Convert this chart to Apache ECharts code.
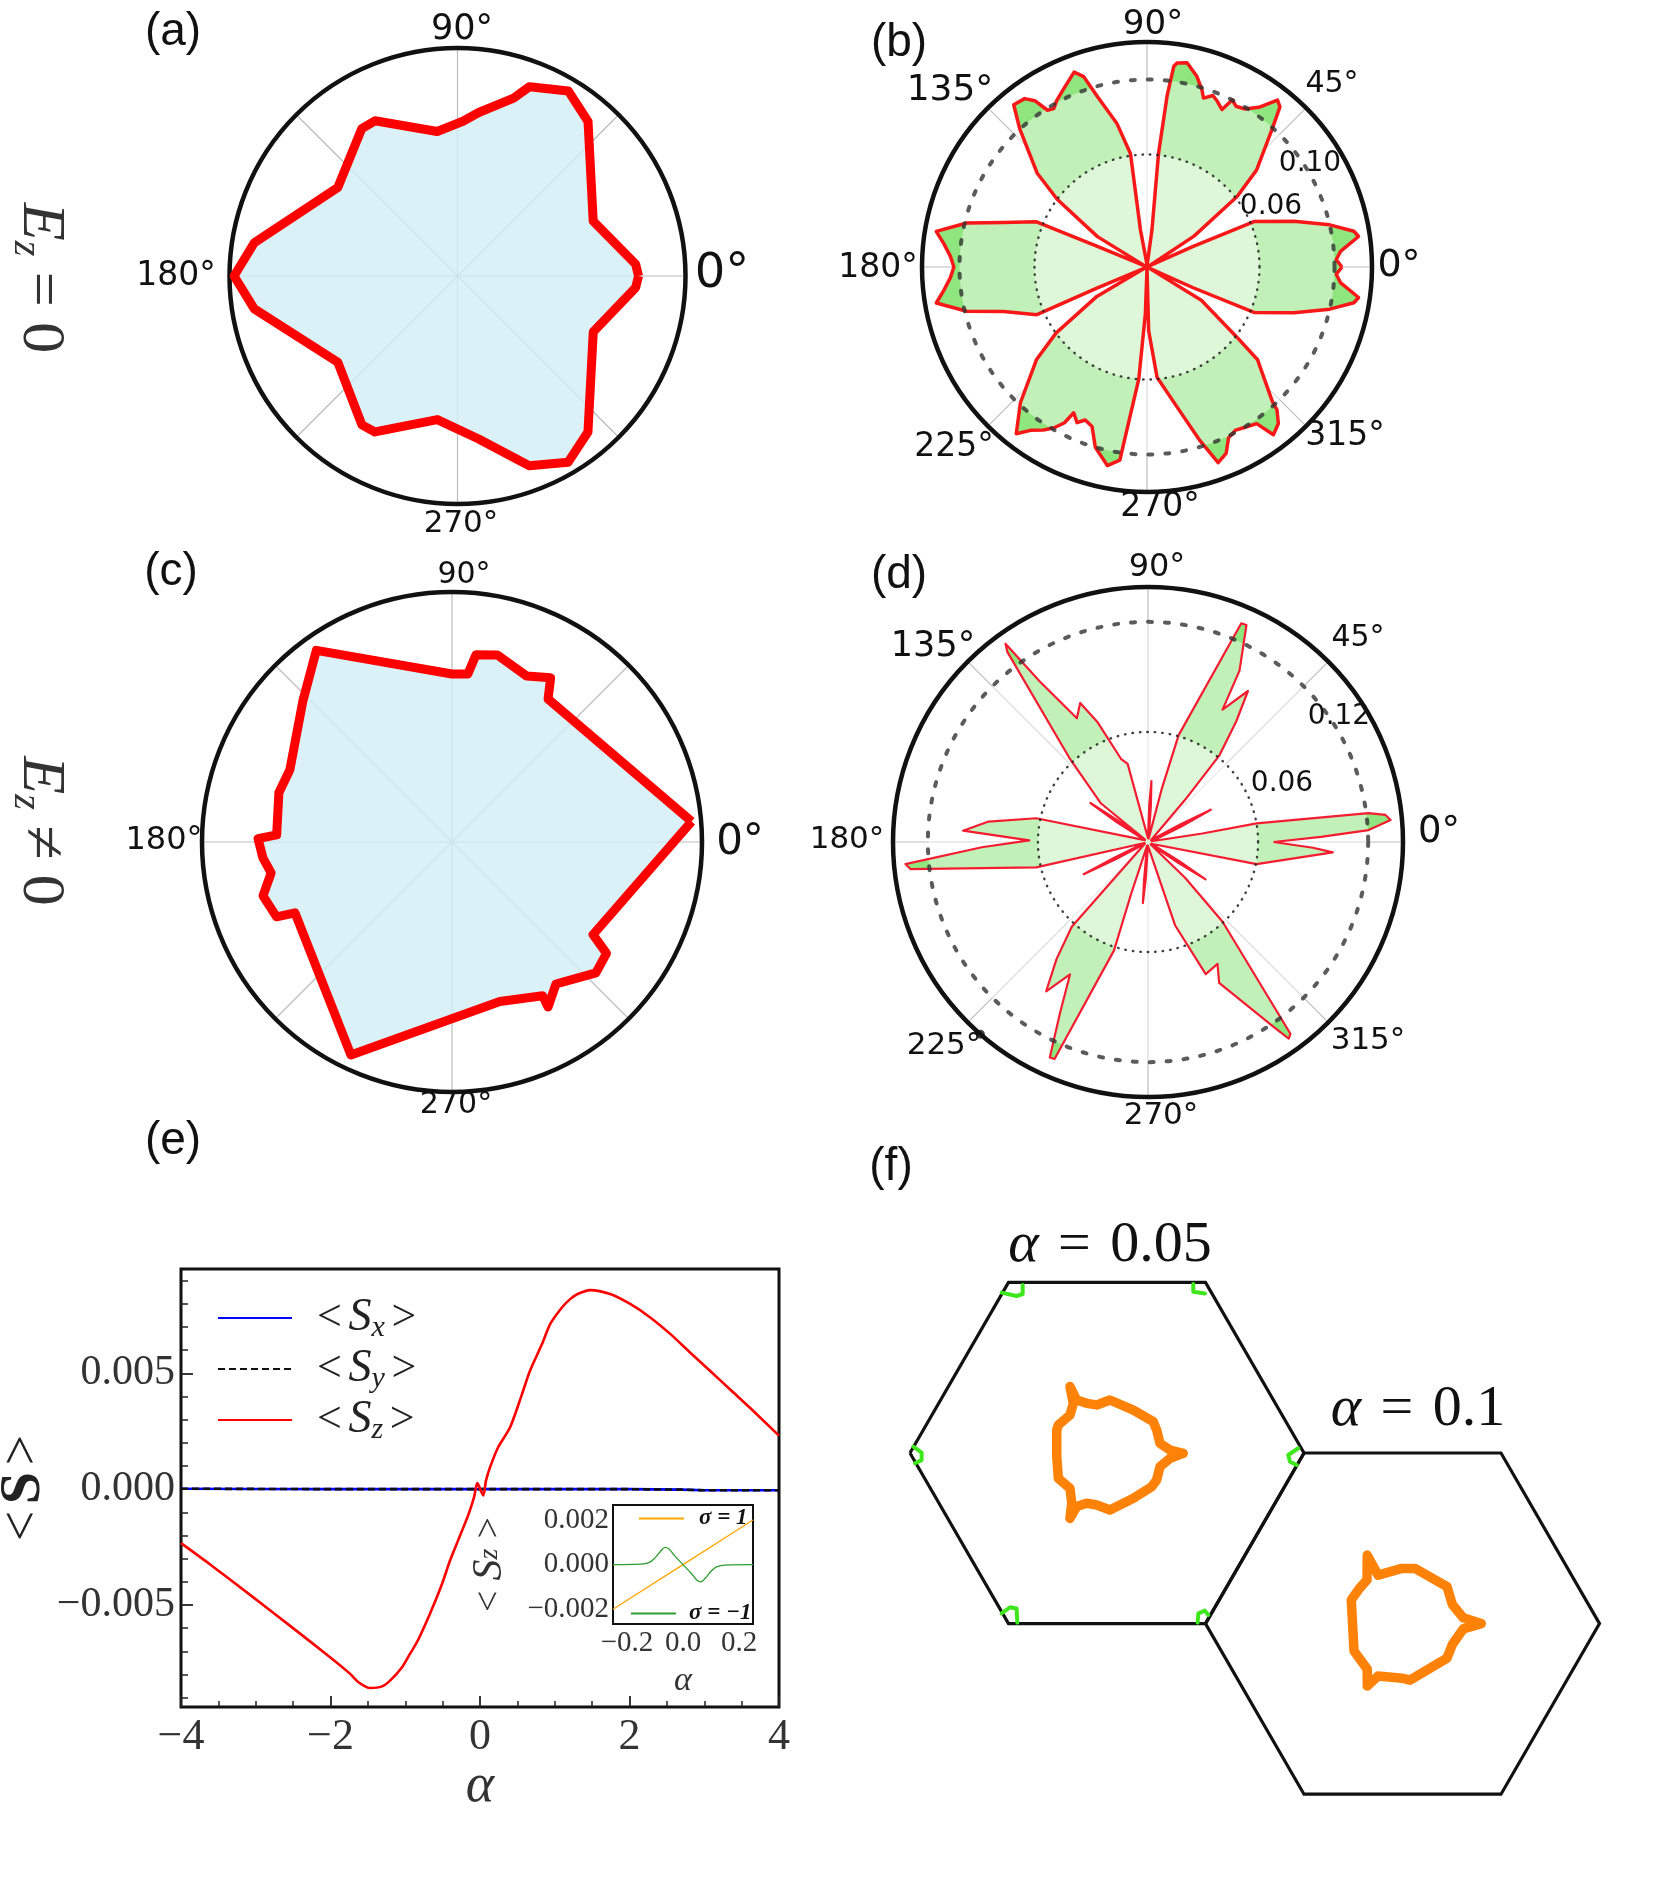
<!DOCTYPE html>
<html>
<head>
<meta charset="utf-8">
<style>
body { margin: 0; background: #ffffff; }
#chart { width: 1660px; height: 1882px; }
</style>
<script src="https://cdn.jsdelivr.net/npm/echarts@6/dist/echarts.min.js"></script>
</head>
<body>
<div id="chart"></div>
<script type="text/javascript">

// (a) E_z = 0 : outline of the polar pattern, angle in degrees, radius relative to the frame
var angA = [0, 3.8, 22, 49.8, 59.1, 69.2, 72.5, 82.6, 88, 98, 118, 123, 143.5, 170.7, 180, 189.2, 215.8, 237.3, 242.1, 262, 277.4, 290.7, 300.7, 309.9, 337.6, 356.3, 360];
var radA = [0.794, 0.783, 0.642, 0.887, 0.946, 0.888, 0.818, 0.723, 0.679, 0.640, 0.771, 0.771, 0.653, 0.903, 0.980, 0.903, 0.647, 0.776, 0.774, 0.636, 0.721, 0.890, 0.950, 0.892, 0.644, 0.783, 0.794];

// (b) E_z = 0 : lobes
var angB = [0, 2.2, 4.6, 8.2, 9.8, 13, 17.3, 23, 24, 26,
  31, 33.3, 38, 41.5, 47.7, 50.3, 52, 55, 58.4, 61, 63, 64.5, 67, 69, 71.5, 72.8, 75.3, 78.9, 81.6, 82.4, 83.3, 84.2, 82.4, 86,
  94, 100, 98.3, 101.8, 106.3, 108.4, 110.5, 115, 118.5, 120.5, 122.4, 124, 126, 129.4, 132.7, 139.5, 143, 148.5, 152,
  155, 157.5, 157.8, 162.7, 166.3, 170.4, 173.5, 176.9, 180, 183.1, 186.5, 189.7, 193.8, 197.3, 203.4, 202.8, 205,
  208, 210.4, 216, 220, 227, 231.9, 234.5, 237.6, 240, 242.1, 243.3, 245.8, 248, 251, 254, 258.7, 262, 263, 265.8, 268, 270,
  273, 271.5, 275.2, 282, 287, 290, 293, 295.5, 298.5, 301, 305, 307, 310, 312.3, 313, 320, 322, 328.5, 332,
  334, 335.8, 337, 342.7, 347, 350.2, 351.8, 355.4, 357.8, 360];
var radB = [0.104, 0.101, 0.1035, 0.114, 0.112, 0.100, 0.082, 0.062, 0.027, 0.001,
  0.001, 0.030, 0.061, 0.078, 0.099, 0.111, 0.113, 0.104, 0.099, 0.098, 0.100, 0.093, 0.096, 0.098, 0.095, 0.099, 0.105, 0.111, 0.110, 0.108, 0.092, 0.061, 0.020, 0.001,
  0.001, 0.020, 0.061, 0.078, 0.095, 0.107, 0.111, 0.105, 0.101, 0.098, 0.099, 0.107, 0.111, 0.112, 0.100, 0.077, 0.060, 0.031, 0.001,
  0.001, 0.029, 0.064, 0.080, 0.099, 0.114, 0.109, 0.105, 0.103, 0.105, 0.109, 0.114, 0.099, 0.080, 0.064, 0.029, 0.001,
  0.001, 0.031, 0.060, 0.077, 0.099, 0.113, 0.107, 0.103, 0.099, 0.094, 0.087, 0.091, 0.088, 0.090, 0.100, 0.108, 0.104, 0.087, 0.060, 0.025, 0.001,
  0.001, 0.034, 0.059, 0.076, 0.097, 0.111, 0.108, 0.101, 0.099, 0.100, 0.102, 0.112, 0.109, 0.103, 0.098, 0.077, 0.061, 0.034, 0.001,
  0.001, 0.027, 0.062, 0.082, 0.100, 0.112, 0.114, 0.1035, 0.101, 0.104];
var ringsB = [0.06, 0.10];

// (c) E_z != 0 : outline
var angC = [4.9, 56.1, 59, 65.8, 76.4, 82.7, 84.6, 90, 125.3, 136.6, 156, 164.1, 177.7, 179, 184.8, 189.7, 195.9, 203.1, 204.3, 244.6, 286.7, 300.5, 300.2, 306.2, 317.7, 324.2, 326.7, 4.9];
var radC = [0.962, 0.689, 0.766, 0.728, 0.770, 0.755, 0.675, 0.672, 0.939, 0.821, 0.710, 0.720, 0.702, 0.776, 0.759, 0.734, 0.786, 0.763, 0.689, 0.943, 0.666, 0.714, 0.764, 0.704, 0.778, 0.762, 0.675, 0.962];

// (d) E_z != 0 : spikes and small petals
var angD = [0, 1.7, 3.1, 5.2, 6.5, 7.45, 9.75, 8.9, 12,
  22, 25, 27.2, 28.5, 32,
  46, 48.7, 50.5, 53.8, 56.5, 60.6, 61.9, 65.6, 66.9, 74, 75.5, 79,
  84, 85.5, 86.8, 88, 90,
  100, 104.4, 104.6, 108, 112.9, 116, 119.9, 124, 125.7, 126.5, 133.2, 140.6, 141,
  143, 144.5, 145.9, 147.5, 150,
  163, 168, 172.7, 176.5, 179.2, 181.8, 185.2, 186.5, 192.8, 195,
  203, 205, 206.6, 208, 210,
  222, 228, 232, 235.7, 239.5, 242.8, 245.5, 246.7, 252.6, 252, 256,
  263, 264, 265.2, 266.5, 268,
  282, 288, 293.6, 299.7, 296.8, 304.2, 305.6, 306.6, 313.1, 316, 318,
  324, 325.5, 327, 328.5, 331,
  343, 348.5, 356.8, 358, 360];
var radD = [0.0684, 0.0943, 0.1204, 0.1328, 0.1303, 0.1212, 0.0601, 0.0300, 0.002,
  0.002, 0.020, 0.0385, 0.020, 0.002,
  0.002, 0.0308, 0.0610, 0.0814, 0.0987, 0.0828, 0.1059, 0.1299, 0.1296, 0.0606, 0.0296, 0.002,
  0.002, 0.020, 0.0333, 0.020, 0.002,
  0.002, 0.0334, 0.0440, 0.0477, 0.0712, 0.0843, 0.0778, 0.1059, 0.1331, 0.1289, 0.0621, 0.0335, 0.002,
  0.002, 0.020, 0.0379, 0.020, 0.002,
  0.002, 0.0623, 0.0876, 0.1010, 0.0647, 0.0906, 0.1328, 0.1303, 0.0625, 0.002,
  0.002, 0.020, 0.0392, 0.020, 0.002,
  0.002, 0.0621, 0.0810, 0.0985, 0.0837, 0.1050, 0.1291, 0.1288, 0.0619, 0.0301, 0.002,
  0.002, 0.020, 0.0334, 0.020, 0.002,
  0.002, 0.0477, 0.0786, 0.0765, 0.0860, 0.1218, 0.1318, 0.1302, 0.0595, 0.0281, 0.002,
  0.002, 0.020, 0.0374, 0.020, 0.002,
  0.002, 0.0604, 0.1009, 0.0900, 0.0684];
var ringsD = [0.06, 0.12];

// angle tick labels of the four polar panels: text, font size, centre (px)
var angLabelsA = [['90\u00b0', 35, 462, 30], ['0\u00b0', 48, 722, 275], ['180\u00b0', 33, 176, 276], ['270\u00b0', 31, 461, 524]];
var angLabelsB = [['90\u00b0', 34, 1153, 25], ['45\u00b0', 30, 1332, 84], ['135\u00b0', 36, 950, 91], ['180\u00b0', 33, 878, 268],
  ['0\u00b0', 38, 1399, 266], ['225\u00b0', 33, 954, 447], ['270\u00b0', 33, 1160, 507], ['315\u00b0', 33, 1345, 436]];
var angLabelsC = [['90\u00b0', 30, 464, 575], ['0\u00b0', 42, 740, 843], ['180\u00b0', 32, 164, 841], ['270\u00b0', 30, 456, 1105]];
var angLabelsD = [['90\u00b0', 32, 1157, 568], ['45\u00b0', 30, 1358, 638], ['135\u00b0', 35, 933, 647], ['180\u00b0', 31, 847, 840],
  ['0\u00b0', 37, 1439, 832], ['225\u00b0', 31, 944, 1046], ['270\u00b0', 31, 1161, 1116], ['315\u00b0', 31, 1368, 1041]];

// (e) spin expectation values against alpha
var alphaZ = [-4.0, -3.61, -3.08, -2.54, -2.01, -1.74, -1.63, -1.47, -1.31, -1.2, -1.04, -0.935, -0.83, -0.668, -0.507, -0.4, -0.293, -0.159, -0.079, -0.036, 0.044, 0.08, 0.135, 0.243, 0.403, 0.563, 0.67, 0.831, 0.94, 1.099, 1.206, 1.313, 1.474, 1.74, 2.009, 2.277, 2.544, 2.81, 3.08, 3.35, 3.615, 4.0];
var szVals = [-0.00233, -0.00325, -0.00455, -0.00590, -0.00724, -0.00796, -0.00832, -0.00858, -0.00851, -0.00825, -0.00767, -0.00710, -0.00652, -0.00537, -0.00408, -0.00307, -0.00221, -0.00113, -0.00034, 0.00026, -0.00027, 0.00037, 0.00095, 0.00181, 0.00267, 0.00411, 0.00512, 0.00627, 0.00713, 0.00785, 0.00820, 0.00843, 0.00859, 0.00842, 0.00799, 0.00741, 0.00670, 0.00590, 0.00510, 0.00429, 0.00350, 0.00231];
var alphaXY = [-4, -3, -2, -1, 0, 1, 2, 2.7, 3, 4];
var sxVals = [0.00002, 0.00001, 0, 0, 0, 0, 0, -0.00002, -0.00005, -0.00005];
var syVals = [0.00002, 0.00001, 0, 0, 0, 0, 0, -0.00002, -0.00005, -0.00005];
var yTicksMajor = [-0.005, 0, 0.005];
var yTicksMinor = [-0.009, -0.008, -0.007, -0.006, -0.004, -0.003, -0.002, -0.001, 0.001, 0.002, 0.003, 0.004, 0.006, 0.007, 0.008, 0.009];

// (e) inset, sigma = 1 and sigma = -1
var alphaUp = [-0.25, 0, 0.25];
var szUp = [-0.0020, 0, 0.0020];
var alphaDown = [-0.25, -0.15, -0.12, -0.1, -0.08, -0.064, -0.05, -0.03, 0, 0.03, 0.05, 0.064, 0.08, 0.1, 0.12, 0.15, 0.25];
var szDown = [0, 0.00002, 0.0001, 0.0003, 0.0006, 0.00077, 0.0007, 0.0004, 0, -0.0004, -0.0007, -0.00077, -0.0006, -0.0003, -0.0001, -0.00002, 0];
var insetXTicks = [-0.2, -0.15, -0.1, -0.05, 0, 0.05, 0.1, 0.15, 0.2];
var insetXLabels = [-0.2, 0, 0.2];
var insetYTicks = [-0.0025, -0.002, -0.0015, -0.001, -0.0005, 0, 0.0005, 0.001, 0.0015, 0.002, 0.0025];
var insetYLabels = [-0.002, 0, 0.002];

// (f) Brillouin zones (k-space, zone radius 1) and Fermi contours
var hex1X = [-1, -0.5, 0.5, 1, 0.5, -0.5, -1];
var hex1Y = [0, 0.866, 0.866, 0, -0.866, -0.866, 0];
var hex2X = [0.5, 1, 2, 2.5, 2, 1, 0.5];
var hex2Y = [-0.866, 0, 0, -0.866, -1.732, -1.732, -0.866];
var fs1X = [-0.188, -0.154, -0.103, -0.052, 0.015, 0.134, 0.235, 0.252, 0.269, 0.320, 0.387, 0.320, 0.269, 0.252, 0.227, 0.134, 0.015, -0.052, -0.103, -0.154, -0.188, -0.179, -0.188, -0.247, -0.255, -0.255, -0.247, -0.188, -0.171, -0.188];
var fs1Y = [0.337, 0.269, 0.252, 0.244, 0.269, 0.218, 0.159, 0.117, 0.049, 0.015, -0.002, -0.027, -0.069, -0.137, -0.171, -0.230, -0.289, -0.264, -0.255, -0.272, -0.332, -0.255, -0.179, -0.129, -0.019, 0.117, 0.142, 0.193, 0.252, 0.337];
var fs2X = [1.321, 1.376, 1.497, 1.563, 1.726, 1.753, 1.808, 1.900, 1.808, 1.753, 1.726, 1.538, 1.497, 1.376, 1.321, 1.321, 1.254, 1.240, 1.280, 1.320, 1.321];
var fs2Y = [-0.519, -0.620, -0.586, -0.586, -0.678, -0.769, -0.836, -0.866, -0.893, -0.972, -1.041, -1.153, -1.143, -1.132, -1.183, -1.097, -1.005, -0.746, -0.689, -0.644, -0.519];
var pockets = [
  [[-0.535, 0.814], [-0.459, 0.797], [-0.428, 0.807], [-0.428, 0.853]],
  [[0.438, 0.858], [0.438, 0.819], [0.497, 0.810]],
  [[0.971, 0.024], [0.920, -0.010], [0.929, -0.044], [0.963, -0.061]],
  [[-0.983, 0.032], [-0.941, 0.002], [-0.941, -0.036], [-0.975, -0.052]],
  [[-0.535, -0.814], [-0.492, -0.783], [-0.459, -0.789], [-0.455, -0.861]],
  [[0.460, -0.861], [0.464, -0.814], [0.497, -0.800], [0.514, -0.822]]
];

var serif = '"Liberation Serif", "DejaVu Serif", serif';
var sansD = '"DejaVu Sans", sans-serif';
var sansL = '"Liberation Sans", Arial, sans-serif';

// polar frames: centre, radius (px) and radial maximum
var polB = { c: [1147, 267], r: 225, max: 0.12 };
var polD = { c: [1148, 842], r: 255, max: 0.139 };

function zip(a, b) {
  var out = [];
  for (var i = 0; i < a.length; i++) out.push([a[i], b[i]]);
  return out;
}
function minus(s) { return String(s).replace('-', '\u2212'); }

function angleAxisMain(polarIndex) {
  return {
    polarIndex: polarIndex, type: 'value', min: 0, max: 360, interval: 45,
    startAngle: 0, clockwise: false,
    axisLine: { show: true, lineStyle: { color: '#111', width: 4.5 } },
    axisTick: { show: false },
    axisLabel: { show: false },
    splitLine: { show: true, lineStyle: { color: '#bcbcbc', width: 1.2 } }
  };
}
function angleAxisHidden(polarIndex) {
  return { polarIndex: polarIndex, type: 'value', min: 0, max: 360, startAngle: 0, clockwise: false, show: false };
}
function radiusHidden(polarIndex, max) {
  return { polarIndex: polarIndex, type: 'value', min: 0, max: max, show: false };
}
function radiusRing(polarIndex, max, ring, z, style) {
  return {
    polarIndex: polarIndex, type: 'value', min: 0, max: max, z: z,
    axisLine: { show: false },
    axisTick: { show: false, customValues: [ring] },
    axisLabel: { show: false, customValues: [ring] },
    splitLine: { show: true, lineStyle: style }
  };
}
var innerRingStyle = { color: 'rgba(30,30,30,0.85)', width: 2.4, type: [0.5, 7], cap: 'round' };
var outerRingStyle = { color: 'rgba(50,50,50,0.8)', width: 4, type: [4, 13], cap: 'round' };

// translucent white disc out to a ring, laid over the lobes (drawn as a one-slice pie)
function veil(pol, ring, alpha) {
  return {
    type: 'pie', silent: true, z: 3, center: pol.c, radius: [0, pol.r * ring / pol.max],
    startAngle: 90, clockwise: false, avoidLabelOverlap: false,
    label: { show: false }, labelLine: { show: false }, emphasis: { disabled: true },
    itemStyle: { color: 'rgba(255,255,255,' + alpha + ')', borderWidth: 0 },
    data: [{ value: 1, name: 'veil' }]
  };
}

var gid = 0;
function txt(s, x, y, size, fam) {
  return { id: 't' + (gid++), type: 'text', x: x, y: y, z: 50, silent: true,
    style: { text: s, fontSize: size, fontFamily: fam || sansL, fill: '#111', align: 'center', verticalAlign: 'middle' } };
}
function richTxt(s, x, y, rich, rot) {
  return { id: 't' + (gid++), type: 'text', x: x, y: y, z: 50, rotation: rot || 0, silent: true,
    style: { text: s, rich: rich, fill: '#222', align: 'center', verticalAlign: 'middle' } };
}
function angleTexts(list) {
  return list.map(function (l) { return txt(l[0], l[2], l[3], l[1], sansD); });
}

var ezRich = {
  e: { fontSize: 62, fontFamily: serif, fontStyle: 'italic', fill: '#333' },
  z: { fontSize: 40, fontFamily: serif, fontStyle: 'italic', fill: '#333', padding: [28, 0, 0, 0] },
  r: { fontSize: 62, fontFamily: serif, fill: '#333' }
};
var alphaRich = {
  a: { fontSize: 58, fontFamily: serif, fontStyle: 'italic', fill: '#111' },
  r: { fontSize: 58, fontFamily: serif, fill: '#111' }
};

var pocketSeries = pockets.map(function (p) {
  return { type: 'line', xAxisIndex: 2, yAxisIndex: 3, data: p, symbol: 'none', silent: true,
    lineStyle: { color: '#3ee61c', width: 4, cap: 'round', join: 'round' } };
});

var texts = [
  txt('(a)', 173, 32, 46), txt('(b)', 899, 43, 46), txt('(c)', 171, 572, 46),
  txt('(d)', 899, 575, 46), txt('(e)', 173, 1141, 46), txt('(f)', 891, 1167, 46),
  txt('0.06', 1271, 207, 28, sansD), txt('0.10', 1310, 164, 28, sansD),
  txt('0.06', 1282, 784, 28, sansD), txt('0.12', 1339, 717, 28, sansD),
  richTxt('{e|E}{z|z}{r| = 0}', 40, 278, ezRich, -Math.PI / 2),
  richTxt('{e|E}{z|z}{r| \u2260 0}', 40, 831, ezRich, -Math.PI / 2),
  richTxt('{a|\u03b1}{r| \u200a=\u200a 0.05}', 1110, 1246, alphaRich),
  richTxt('{a|\u03b1}{r| \u200a=\u200a 0.1}', 1418, 1410, alphaRich)
].concat(angleTexts(angLabelsA), angleTexts(angLabelsB), angleTexts(angLabelsC), angleTexts(angLabelsD));

var chart = echarts.init(document.getElementById('chart'));
var option = {
  animation: false,
  backgroundColor: '#ffffff',
  polar: [
    { center: [457.5, 276], radius: 228 },
    { center: polB.c, radius: polB.r },
    { center: polB.c, radius: polB.r },
    { center: polB.c, radius: polB.r },
    { center: [452, 842], radius: 250 },
    { center: polD.c, radius: polD.r },
    { center: polD.c, radius: polD.r },
    { center: polD.c, radius: polD.r }
  ],
  angleAxis: [
    angleAxisMain(0), angleAxisMain(1), angleAxisHidden(2), angleAxisHidden(3),
    angleAxisMain(4), angleAxisMain(5), angleAxisHidden(6), angleAxisHidden(7)
  ],
  radiusAxis: [
    radiusHidden(0, 1),
    radiusHidden(1, polB.max),
    radiusRing(2, polB.max, ringsB[0], 4, innerRingStyle),
    radiusRing(3, polB.max, ringsB[1], 5, outerRingStyle),
    radiusHidden(4, 1),
    radiusHidden(5, polD.max),
    radiusRing(6, polD.max, ringsD[0], 4, innerRingStyle),
    radiusRing(7, polD.max, ringsD[1], 5, outerRingStyle)
  ],
  grid: [
    { left: 181, top: 1269, width: 598, height: 438, show: true, borderColor: '#111', borderWidth: 3, backgroundColor: 'rgba(0,0,0,0)', outerBoundsMode: 'none', containLabel: false },
    { left: 613, top: 1505, width: 140, height: 119, show: true, borderColor: '#111', borderWidth: 2, backgroundColor: '#ffffff', z: 5, outerBoundsMode: 'none', containLabel: false },
    { left: 870.6, top: 1216.6, width: 788, height: 630.4, show: false, outerBoundsMode: 'none', containLabel: false }
  ],
  xAxis: [
    {
      gridIndex: 0, type: 'value', min: -4, max: 4, interval: 2,
      axisLine: { show: false, onZero: false }, splitLine: { show: false },
      axisTick: { inside: true, length: 11, lineStyle: { color: '#222', width: 1.8 } },
      minorTick: { show: true, splitNumber: 4, length: 6, lineStyle: { color: '#222', width: 1.5 } },
      axisLabel: { margin: 8, fontFamily: serif, fontSize: 44, color: '#333', formatter: function (v) { return minus(v); } },
      name: '\u03b1', nameLocation: 'middle', nameGap: 52,
      nameTextStyle: { fontFamily: serif, fontStyle: 'italic', fontSize: 54, color: '#333' }
    },
    {
      gridIndex: 1, type: 'value', min: -0.25, max: 0.25,
      axisLine: { show: false, onZero: false }, splitLine: { show: false },
      axisTick: { inside: true, length: 4, customValues: insetXTicks, lineStyle: { color: '#222', width: 1 } },
      axisLabel: { customValues: insetXLabels, margin: 5, fontFamily: serif, fontSize: 29, color: '#333', formatter: function (v) { return minus(v.toFixed(1)); } },
      name: '\u03b1', nameLocation: 'middle', nameGap: 40,
      nameTextStyle: { fontFamily: serif, fontStyle: 'italic', fontSize: 34, color: '#333' }
    },
    { gridIndex: 2, type: 'value', min: -1.2, max: 2.8, show: false, axisLine: { onZero: false } }
  ],
  yAxis: [
    {
      gridIndex: 0, type: 'value', position: 'left', min: -0.0094, max: 0.0095,
      axisLine: { show: false, onZero: false }, splitLine: { show: false },
      axisTick: { inside: true, length: 12, customValues: yTicksMajor, lineStyle: { color: '#222', width: 1.8 } },
      axisLabel: { customValues: yTicksMajor, margin: 6, fontFamily: serif, fontSize: 42, color: '#333', formatter: function (v) { return minus(v.toFixed(3)); } },
      name: '{t|<}  {b|S}  {t|>}', nameLocation: 'middle', nameGap: 128, nameRotate: 90,
      nameTextStyle: { rich: {
        t: { fontFamily: serif, fontSize: 54, color: '#222' },
        b: { fontFamily: serif, fontSize: 58, fontWeight: 'bold', color: '#222' }
      } }
    },
    {
      gridIndex: 0, type: 'value', position: 'left', offset: 0, min: -0.0094, max: 0.0095,
      axisLine: { show: false, onZero: false }, splitLine: { show: false },
      axisTick: { inside: true, length: 7, customValues: yTicksMinor, lineStyle: { color: '#222', width: 1.5 } },
      axisLabel: { show: false }
    },
    {
      gridIndex: 1, type: 'value', min: -0.00266, max: 0.00267,
      axisLine: { show: false, onZero: false }, splitLine: { show: false },
      axisTick: { inside: true, length: 4, customValues: insetYTicks, lineStyle: { color: '#222', width: 1 } },
      axisLabel: { customValues: insetYLabels, margin: 4, fontFamily: serif, fontSize: 29, color: '#333', formatter: function (v) { return minus(v.toFixed(3)); } },
      name: '{t|<}   {s|S}{z|z}   {t|>}', nameLocation: 'middle', nameGap: 102, nameRotate: 90,
      nameTextStyle: { rich: {
        t: { fontFamily: serif, fontSize: 38, color: '#333' },
        s: { fontFamily: serif, fontStyle: 'italic', fontSize: 42, color: '#333' },
        z: { fontFamily: serif, fontStyle: 'italic', fontSize: 28, color: '#333' }
      } }
    },
    { gridIndex: 2, type: 'value', min: -2.0, max: 1.2, show: false, axisLine: { onZero: false } }
  ],
  legend: [
    {
      data: ['Sx', 'Sy', 'Sz'], orient: 'vertical', left: 212, top: 1289,
      itemWidth: 74, itemHeight: 12, itemGap: 2, selectedMode: false,
      itemStyle: { opacity: 0 },
      formatter: function (n) { return '{sp|}{t|<}  {s|S}{b|' + n.slice(1) + '}  {t|>}'; },
      textStyle: { lineHeight: 48, rich: {
        sp: { width: 20 },
        t: { fontFamily: serif, fontSize: 44, color: '#222' },
        s: { fontFamily: serif, fontStyle: 'italic', fontSize: 46, color: '#222' },
        b: { fontFamily: serif, fontStyle: 'italic', fontSize: 30, color: '#222', padding: [20, 0, 0, 0] }
      } }
    },
    {
      data: ['\u03c3 = 1'], left: 633, top: 1502, itemWidth: 45, itemHeight: 10, selectedMode: false, z: 6,
      itemStyle: { opacity: 0 },
      formatter: function (n) { return '{sp|}' + n; },
      textStyle: { fontFamily: serif, fontSize: 23, fontWeight: 'bold', fontStyle: 'italic', color: '#111', rich: { sp: { width: 10 } } }
    },
    {
      data: ['\u03c3 = \u22121'], left: 625, top: 1597, itemWidth: 45, itemHeight: 10, selectedMode: false, z: 6,
      itemStyle: { opacity: 0 },
      formatter: function (n) { return '{sp|}' + n; },
      textStyle: { fontFamily: serif, fontSize: 23, fontWeight: 'bold', fontStyle: 'italic', color: '#111', rich: { sp: { width: 8 } } }
    }
  ],
  graphic: texts,
  series: [
    { name: 'a', type: 'line', coordinateSystem: 'polar', polarIndex: 0, data: zip(radA, angA), symbol: 'none',
      lineStyle: { color: '#ff0000', width: 9, join: 'round' }, areaStyle: { color: '#d1eef5', opacity: 0.8 } },
    { name: 'b', type: 'line', coordinateSystem: 'polar', polarIndex: 1, data: zip(radB, angB), symbol: 'none',
      lineStyle: { color: '#f81818', width: 3.5, join: 'round' }, areaStyle: { color: '#8fe67e', opacity: 1 } },
    { name: 'c', type: 'line', coordinateSystem: 'polar', polarIndex: 4, data: zip(radC, angC), symbol: 'none',
      lineStyle: { color: '#ff0000', width: 9, join: 'round' }, areaStyle: { color: '#d1eef5', opacity: 0.8 } },
    { name: 'd', type: 'line', coordinateSystem: 'polar', polarIndex: 5, data: zip(radD, angD), symbol: 'none',
      lineStyle: { color: '#f51c30', width: 2.2, join: 'round' }, areaStyle: { color: '#8fe67e', opacity: 1 } },
    { name: 'dot', type: 'scatter', coordinateSystem: 'polar', polarIndex: 5, data: [[0.139, 228.9]], symbolSize: 9,
      itemStyle: { color: '#111' }, z: 6 },
    veil(polB, ringsB[1], 0.45), veil(polB, ringsB[0], 0.45),
    veil(polD, ringsD[1], 0.45), veil(polD, ringsD[0], 0.45),

    { name: 'Sx', type: 'line', xAxisIndex: 0, yAxisIndex: 0, data: zip(alphaXY, sxVals), symbol: 'none',
      itemStyle: { color: '#0000ff' }, lineStyle: { color: '#0000ff', width: 2.6 } },
    { name: 'Sy', type: 'line', xAxisIndex: 0, yAxisIndex: 0, data: zip(alphaXY, syVals), symbol: 'none',
      itemStyle: { color: '#111111' }, lineStyle: { color: '#111111', width: 2.6, type: [7, 4] } },
    { name: 'Sz', type: 'line', xAxisIndex: 0, yAxisIndex: 0, data: zip(alphaZ, szVals), symbol: 'none', smooth: 0.25,
      itemStyle: { color: '#ff0000' }, lineStyle: { color: '#ff0000', width: 2.6 } },
    { name: '\u03c3 = 1', type: 'line', xAxisIndex: 1, yAxisIndex: 2, data: zip(alphaUp, szUp), symbol: 'none', z: 6,
      itemStyle: { color: '#ffa500' }, lineStyle: { color: '#ffa500', width: 1.3 } },
    { name: '\u03c3 = \u22121', type: 'line', xAxisIndex: 1, yAxisIndex: 2, data: zip(alphaDown, szDown), symbol: 'none', smooth: 0.4, z: 6,
      itemStyle: { color: '#2f9e2f' }, lineStyle: { color: '#2f9e2f', width: 1.3 } },

    { name: 'bz1', type: 'line', xAxisIndex: 2, yAxisIndex: 3, data: zip(hex1X, hex1Y), symbol: 'none', silent: true,
      lineStyle: { color: '#111', width: 3.2, join: 'miter' } },
    { name: 'bz2', type: 'line', xAxisIndex: 2, yAxisIndex: 3, data: zip(hex2X, hex2Y), symbol: 'none', silent: true,
      lineStyle: { color: '#111', width: 3.2, join: 'miter' } },
    { name: 'fs1', type: 'line', xAxisIndex: 2, yAxisIndex: 3, data: zip(fs1X, fs1Y), symbol: 'none', silent: true,
      lineStyle: { color: '#ff8208', width: 9.5, join: 'round', cap: 'round' } },
    { name: 'fs2', type: 'line', xAxisIndex: 2, yAxisIndex: 3, data: zip(fs2X, fs2Y), symbol: 'none', silent: true,
      lineStyle: { color: '#ff8208', width: 9.5, join: 'round', cap: 'round' } }
  ].concat(pocketSeries)
};
chart.setOption(option);
</script>
</body>
</html>
